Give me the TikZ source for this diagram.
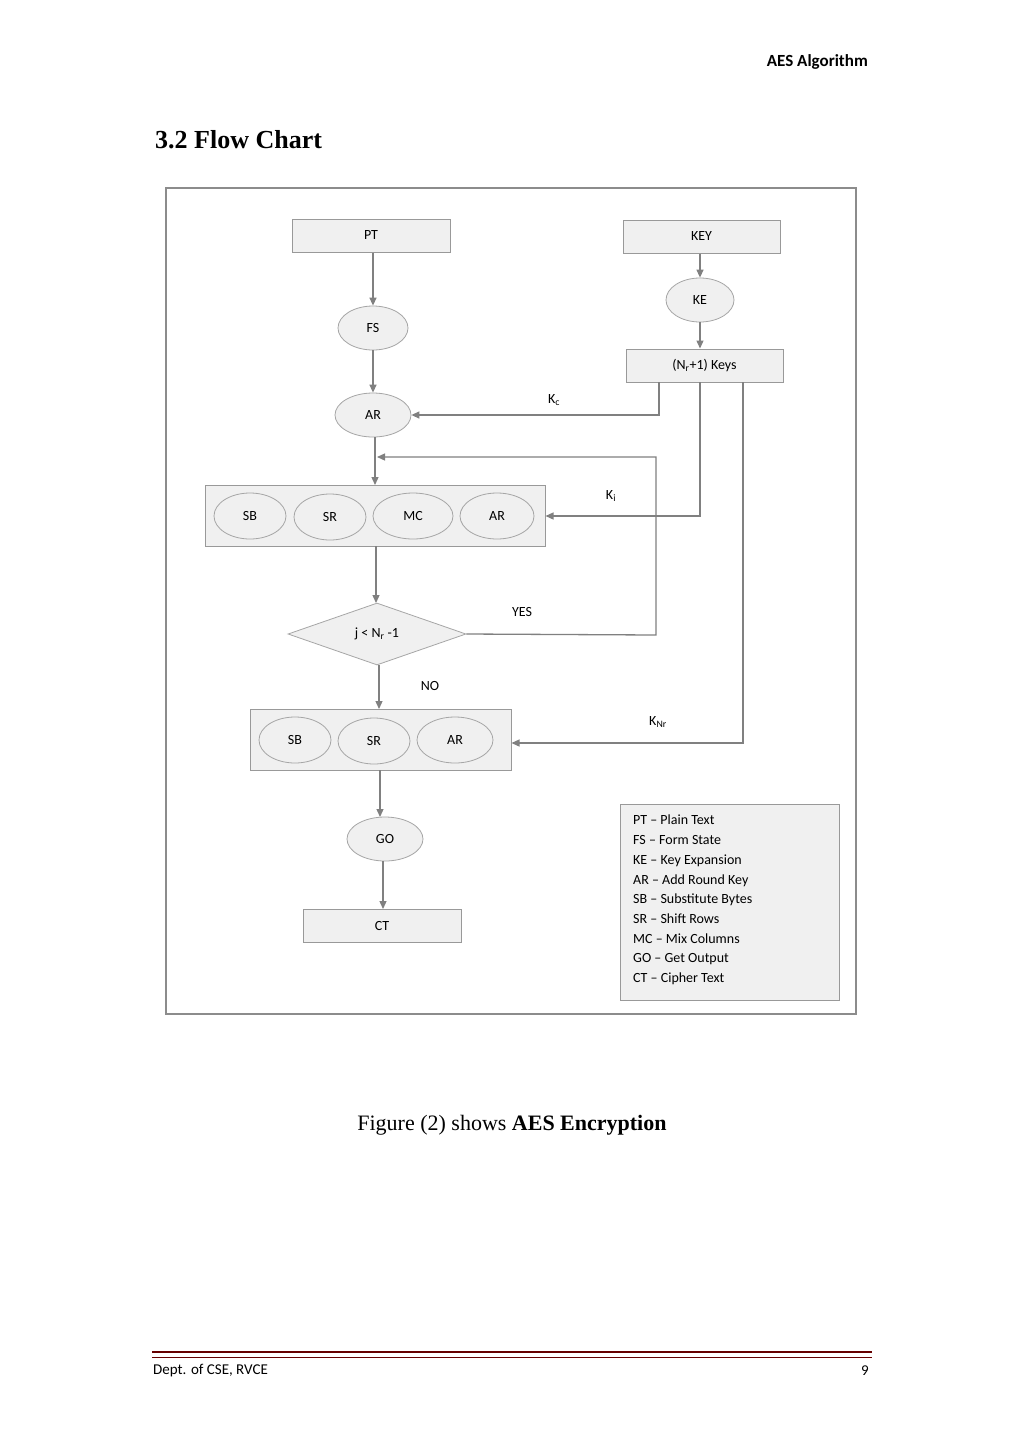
\documentclass[tikz,border=0pt]{standalone}
\usepackage{fontspec}
\setmainfont{Carlito}
\newfontfamily\seriffont{Liberation Serif}
\usetikzlibrary{shapes.geometric,arrows.meta}
\begin{document}
\begin{tikzpicture}[x=1pt,y=-1pt,
  box/.style={draw=black!40,fill=black!6,line width=1pt,inner sep=0},
  ell/.style={ellipse,draw=black!35,fill=black!6,line width=0.8pt,inner sep=0,font=\fontsize{14}{16}\selectfont},
  txt/.style={font=\fontsize{14}{16}\selectfont,inner sep=0},
  arr/.style={draw=black!50,line width=1.3pt,-{Triangle[length=8pt,width=7pt]}},
  ln/.style={draw=black!50,line width=1.3pt}]
\useasboundingbox (0,0) rectangle (1024,1449);
\fill[white] (0,0) rectangle (1024,1449);
% header
\node[anchor=east,font=\fontsize{17}{20}\selectfont\bfseries,inner sep=0] (hdr) at (868,62) {AES Algorithm};
\node[anchor=west,font=\seriffont\fontsize{26}{30}\selectfont\bfseries,inner sep=0] (title) at (155,140) {3.2 Flow Chart};
% frame
\draw[draw=black!45,line width=1.2pt] (166,188) rectangle (856,1014);
% boxes
\node[box,minimum width=158,minimum height=33,txt] (PT) at (371,235.5) {PT};
\node[box,minimum width=157,minimum height=33,txt] (KEY) at (701.5,236.5) {KEY};
\node[ell,minimum width=68,minimum height=44] (KE) at (700,300) {KE};
\node[ell,minimum width=70,minimum height=44] (FS) at (373,328) {FS};
\node[box,minimum width=157,minimum height=33,txt] (KEYS) at (704.5,365.5) {(N\textsubscript{r}+1) Keys};
\node[ell,minimum width=76,minimum height=44] (AR0) at (373,415) {AR};
% round box 1
\node[box,minimum width=340,minimum height=61] (B1) at (375,515.5) {};
\node[ell,minimum width=72,minimum height=46] (SB1) at (250,516) {SB};
\node[ell,minimum width=72,minimum height=46] (SR1) at (330,517) {SR};
\node[ell,minimum width=80,minimum height=46] (MC1) at (413,516) {MC};
\node[ell,minimum width=74,minimum height=46] (AR1) at (497,516) {AR};
% diamond
\node[diamond,draw=black!35,fill=black!6,line width=0.8pt,minimum width=178,minimum height=62,inner sep=0,aspect=2.9,txt] (D) at (377,634) {j < N\textsubscript{r} -1};
% round box 2
\node[box,minimum width=261,minimum height=61] (B2) at (380.5,739.5) {};
\node[ell,minimum width=72,minimum height=46] (SB2) at (295,740) {SB};
\node[ell,minimum width=72,minimum height=46] (SR2) at (374,741) {SR};
\node[ell,minimum width=76,minimum height=46] (AR2) at (455,740) {AR};
\node[ell,minimum width=76,minimum height=44] (GO) at (385,839) {GO};
\node[box,minimum width=158,minimum height=33,txt] (CT) at (382,925.5) {CT};
% arrows
\draw[arr] (PT.south -| 373,0) -- (FS.north);
\draw[arr] (KEY.south -| 700,0) -- (KE.north);
\draw[arr] (KE.south) -- (KEYS.north -| 700,0);
\draw[arr] (FS.south) -- (AR0.north);
\coordinate (kc1) at (659,382);
\coordinate (kc2) at (659,415);
\draw[arr] (kc1) -- (kc2) -- (AR0.east);
\node[txt] (Kc) at (554,400) {K\textsubscript{c}};
\coordinate (a1) at (375,437);
\coordinate (a2) at (375,485);
\draw[arr] (a1) -- (a2);
\coordinate (ki1) at (700,382);
\coordinate (ki2) at (700,516);
\draw[arr] (ki1) -- (ki2) -- (B1.east |- 0,516);
\node[txt] (Ki) at (611,496) {K\textsubscript{i}};
\coordinate (b1s) at (376,546);
\coordinate (dn) at (376,603);
\draw[arr] (b1s) -- (dn);
\coordinate (y1) at (656,635);
\coordinate (y2) at (656,457);
\coordinate (y3) at (377,457);
\draw[arr] (D.east) -- (y1) -- (y2) -- (y3);
\node[txt] (YES) at (522,612) {YES};
\coordinate (ds) at (379,665);
\coordinate (b2n) at (379,709);
\draw[arr] (ds) -- (b2n);
\node[txt] (NO) at (430,686) {NO};
\coordinate (kn1) at (743,382);
\coordinate (kn2) at (743,743);
\draw[arr] (kn1) -- (kn2) -- (B2.east |- 0,743);
\node[txt] (KN) at (658,722) {K\textsubscript{Nr}};
\coordinate (g1) at (380,770);
\draw[arr] (g1) -- (380,817);
\coordinate (g2) at (383,861);
\draw[arr] (g2) -- (383,909);
% legend
\node[box,minimum width=219,minimum height=196] (LEG) at (729.5,902) {};
\node[anchor=north west,align=left,font=\fontsize{14}{19.7}\selectfont,inner sep=0] (legtxt) at (633,815) {PT -- Plain Text\\FS -- Form State\\KE -- Key Expansion\\AR -- Add Round Key\\SB -- Substitute Bytes\\SR -- Shift Rows\\MC -- Mix Columns\\GO -- Get Output\\CT -- Cipher Text};
% caption
\node[font=\seriffont\fontsize{22}{26}\selectfont,inner sep=0] (cap) at (512,1125) {Figure (2) shows \textbf{AES Encryption}};
% footer
\draw[draw=red!40!black,line width=2.5pt] (152,1352) -- (872,1352);
\draw[draw=red!40!black,line width=0.8pt] (152,1357) -- (872,1357);
\node[anchor=west,font=\fontsize{15}{18}\selectfont,inner sep=0] (ft) at (153,1371) {Dept. of CSE, RVCE};
\node[anchor=east,font=\fontsize{15}{18}\selectfont,inner sep=0] (pg) at (869,1371) {9};
\end{tikzpicture}
\end{document}
